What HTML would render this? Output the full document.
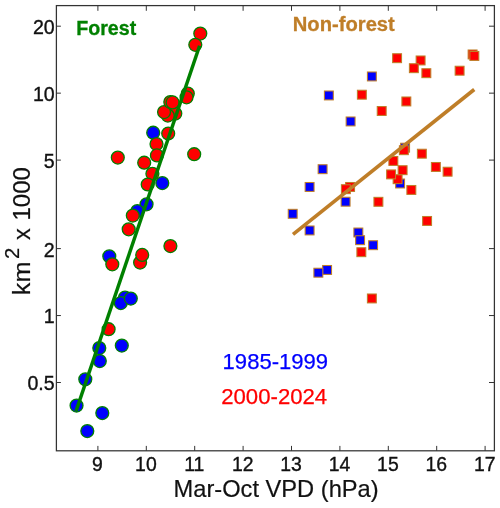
<!DOCTYPE html>
<html><head><meta charset="utf-8"><title>chart</title>
<style>html,body{margin:0;padding:0;background:#fff}svg{display:block;will-change:transform}text{font-family:"Liberation Sans",sans-serif}</style></head><body>
<svg width="500" height="508" viewBox="0 0 500 508">
<rect width="500" height="508" fill="#fff"/>
<circle cx="153.20" cy="132.70" r="6.45" fill="#0000ff" stroke="#008000" stroke-width="1.3"/>
<circle cx="162.30" cy="183.10" r="6.45" fill="#0000ff" stroke="#008000" stroke-width="1.3"/>
<circle cx="146.55" cy="204.35" r="6.45" fill="#0000ff" stroke="#008000" stroke-width="1.3"/>
<circle cx="137.30" cy="211.10" r="6.45" fill="#0000ff" stroke="#008000" stroke-width="1.3"/>
<circle cx="109.30" cy="256.35" r="6.45" fill="#0000ff" stroke="#008000" stroke-width="1.3"/>
<circle cx="125.05" cy="297.60" r="6.45" fill="#0000ff" stroke="#008000" stroke-width="1.3"/>
<circle cx="120.80" cy="303.10" r="6.45" fill="#0000ff" stroke="#008000" stroke-width="1.3"/>
<circle cx="130.80" cy="298.60" r="6.45" fill="#0000ff" stroke="#008000" stroke-width="1.3"/>
<circle cx="99.30" cy="348.10" r="6.45" fill="#0000ff" stroke="#008000" stroke-width="1.3"/>
<circle cx="121.80" cy="345.60" r="6.45" fill="#0000ff" stroke="#008000" stroke-width="1.3"/>
<circle cx="99.80" cy="361.10" r="6.45" fill="#0000ff" stroke="#008000" stroke-width="1.3"/>
<circle cx="85.30" cy="379.35" r="6.45" fill="#0000ff" stroke="#008000" stroke-width="1.3"/>
<circle cx="76.55" cy="405.60" r="6.45" fill="#0000ff" stroke="#008000" stroke-width="1.3"/>
<circle cx="102.30" cy="413.10" r="6.45" fill="#0000ff" stroke="#008000" stroke-width="1.3"/>
<circle cx="87.30" cy="431.10" r="6.45" fill="#0000ff" stroke="#008000" stroke-width="1.3"/>
<circle cx="200.30" cy="33.60" r="6.45" fill="#ff0000" stroke="#008000" stroke-width="1.3"/>
<circle cx="195.30" cy="44.85" r="6.45" fill="#ff0000" stroke="#008000" stroke-width="1.3"/>
<circle cx="187.80" cy="93.60" r="6.45" fill="#ff0000" stroke="#008000" stroke-width="1.3"/>
<circle cx="186.55" cy="97.35" r="6.45" fill="#ff0000" stroke="#008000" stroke-width="1.3"/>
<circle cx="175.30" cy="113.60" r="6.45" fill="#ff0000" stroke="#008000" stroke-width="1.3"/>
<circle cx="167.80" cy="115.60" r="6.45" fill="#ff0000" stroke="#008000" stroke-width="1.3"/>
<circle cx="164.05" cy="112.10" r="6.45" fill="#ff0000" stroke="#008000" stroke-width="1.3"/>
<circle cx="170.30" cy="102.10" r="6.45" fill="#ff0000" stroke="#008000" stroke-width="1.3"/>
<circle cx="172.60" cy="102.40" r="6.45" fill="#ff0000" stroke="#008000" stroke-width="1.3"/>
<circle cx="168.20" cy="133.50" r="6.45" fill="#ff0000" stroke="#008000" stroke-width="1.3"/>
<circle cx="156.50" cy="144.10" r="6.45" fill="#ff0000" stroke="#008000" stroke-width="1.3"/>
<circle cx="156.90" cy="155.40" r="6.45" fill="#ff0000" stroke="#008000" stroke-width="1.3"/>
<circle cx="117.80" cy="157.60" r="6.45" fill="#ff0000" stroke="#008000" stroke-width="1.3"/>
<circle cx="194.20" cy="154.20" r="6.45" fill="#ff0000" stroke="#008000" stroke-width="1.3"/>
<circle cx="144.20" cy="162.70" r="6.45" fill="#ff0000" stroke="#008000" stroke-width="1.3"/>
<circle cx="152.40" cy="173.80" r="6.45" fill="#ff0000" stroke="#008000" stroke-width="1.3"/>
<circle cx="147.70" cy="184.50" r="6.45" fill="#ff0000" stroke="#008000" stroke-width="1.3"/>
<circle cx="132.80" cy="215.60" r="6.45" fill="#ff0000" stroke="#008000" stroke-width="1.3"/>
<circle cx="128.70" cy="229.35" r="6.45" fill="#ff0000" stroke="#008000" stroke-width="1.3"/>
<circle cx="170.40" cy="246.10" r="6.45" fill="#ff0000" stroke="#008000" stroke-width="1.3"/>
<circle cx="140.10" cy="262.60" r="6.45" fill="#ff0000" stroke="#008000" stroke-width="1.3"/>
<circle cx="142.20" cy="254.90" r="6.45" fill="#ff0000" stroke="#008000" stroke-width="1.3"/>
<circle cx="112.30" cy="264.35" r="6.45" fill="#ff0000" stroke="#008000" stroke-width="1.3"/>
<circle cx="108.60" cy="329.20" r="6.45" fill="#ff0000" stroke="#008000" stroke-width="1.3"/>
<rect x="367.40" y="72.00" width="8.9" height="8.9" fill="#0000ff" stroke="#bf7e28" stroke-width="1.05"/>
<rect x="324.40" y="91.00" width="8.9" height="8.9" fill="#0000ff" stroke="#bf7e28" stroke-width="1.05"/>
<rect x="346.15" y="117.00" width="8.9" height="8.9" fill="#0000ff" stroke="#bf7e28" stroke-width="1.05"/>
<rect x="318.15" y="164.75" width="8.9" height="8.9" fill="#0000ff" stroke="#bf7e28" stroke-width="1.05"/>
<rect x="305.15" y="182.50" width="8.9" height="8.9" fill="#0000ff" stroke="#bf7e28" stroke-width="1.05"/>
<rect x="341.15" y="197.25" width="8.9" height="8.9" fill="#0000ff" stroke="#bf7e28" stroke-width="1.05"/>
<rect x="288.25" y="209.35" width="8.9" height="8.9" fill="#0000ff" stroke="#bf7e28" stroke-width="1.05"/>
<rect x="305.15" y="226.00" width="8.9" height="8.9" fill="#0000ff" stroke="#bf7e28" stroke-width="1.05"/>
<rect x="353.90" y="228.05" width="8.9" height="8.9" fill="#0000ff" stroke="#bf7e28" stroke-width="1.05"/>
<rect x="355.65" y="235.75" width="8.9" height="8.9" fill="#0000ff" stroke="#bf7e28" stroke-width="1.05"/>
<rect x="368.65" y="240.75" width="8.9" height="8.9" fill="#0000ff" stroke="#bf7e28" stroke-width="1.05"/>
<rect x="322.65" y="265.50" width="8.9" height="8.9" fill="#0000ff" stroke="#bf7e28" stroke-width="1.05"/>
<rect x="313.90" y="268.25" width="8.9" height="8.9" fill="#0000ff" stroke="#bf7e28" stroke-width="1.05"/>
<rect x="400.65" y="143.25" width="8.9" height="8.9" fill="#0000ff" stroke="#bf7e28" stroke-width="1.05"/>
<rect x="395.65" y="179.05" width="8.9" height="8.9" fill="#0000ff" stroke="#bf7e28" stroke-width="1.05"/>
<rect x="392.65" y="53.75" width="8.9" height="8.9" fill="#ff0000" stroke="#bf7e28" stroke-width="1.05"/>
<rect x="357.40" y="90.25" width="8.9" height="8.9" fill="#ff0000" stroke="#bf7e28" stroke-width="1.05"/>
<rect x="416.15" y="56.00" width="8.9" height="8.9" fill="#ff0000" stroke="#bf7e28" stroke-width="1.05"/>
<rect x="409.40" y="63.75" width="8.9" height="8.9" fill="#ff0000" stroke="#bf7e28" stroke-width="1.05"/>
<rect x="421.90" y="68.75" width="8.9" height="8.9" fill="#ff0000" stroke="#bf7e28" stroke-width="1.05"/>
<rect x="455.15" y="66.25" width="8.9" height="8.9" fill="#ff0000" stroke="#bf7e28" stroke-width="1.05"/>
<rect x="468.15" y="50.00" width="8.9" height="8.9" fill="#ff0000" stroke="#bf7e28" stroke-width="1.05"/>
<rect x="469.90" y="51.50" width="8.9" height="8.9" fill="#ff0000" stroke="#bf7e28" stroke-width="1.05"/>
<rect x="401.90" y="97.00" width="8.9" height="8.9" fill="#ff0000" stroke="#bf7e28" stroke-width="1.05"/>
<rect x="377.25" y="106.55" width="8.9" height="8.9" fill="#ff0000" stroke="#bf7e28" stroke-width="1.05"/>
<rect x="345.65" y="182.50" width="8.9" height="8.9" fill="#ff0000" stroke="#bf7e28" stroke-width="1.05"/>
<rect x="341.40" y="184.75" width="8.9" height="8.9" fill="#ff0000" stroke="#bf7e28" stroke-width="1.05"/>
<rect x="373.95" y="197.35" width="8.9" height="8.9" fill="#ff0000" stroke="#bf7e28" stroke-width="1.05"/>
<rect x="399.40" y="145.75" width="8.9" height="8.9" fill="#ff0000" stroke="#bf7e28" stroke-width="1.05"/>
<rect x="417.40" y="149.25" width="8.9" height="8.9" fill="#ff0000" stroke="#bf7e28" stroke-width="1.05"/>
<rect x="388.90" y="156.50" width="8.9" height="8.9" fill="#ff0000" stroke="#bf7e28" stroke-width="1.05"/>
<rect x="431.40" y="162.50" width="8.9" height="8.9" fill="#ff0000" stroke="#bf7e28" stroke-width="1.05"/>
<rect x="443.15" y="167.25" width="8.9" height="8.9" fill="#ff0000" stroke="#bf7e28" stroke-width="1.05"/>
<rect x="393.15" y="174.75" width="8.9" height="8.9" fill="#ff0000" stroke="#bf7e28" stroke-width="1.05"/>
<rect x="398.15" y="165.75" width="8.9" height="8.9" fill="#ff0000" stroke="#bf7e28" stroke-width="1.05"/>
<rect x="386.65" y="169.95" width="8.9" height="8.9" fill="#ff0000" stroke="#bf7e28" stroke-width="1.05"/>
<rect x="406.90" y="185.50" width="8.9" height="8.9" fill="#ff0000" stroke="#bf7e28" stroke-width="1.05"/>
<rect x="422.65" y="216.50" width="8.9" height="8.9" fill="#ff0000" stroke="#bf7e28" stroke-width="1.05"/>
<rect x="356.90" y="247.75" width="8.9" height="8.9" fill="#ff0000" stroke="#bf7e28" stroke-width="1.05"/>
<rect x="367.40" y="294.00" width="8.9" height="8.9" fill="#ff0000" stroke="#bf7e28" stroke-width="1.05"/>
<line x1="76.0" y1="411.3" x2="199.6" y2="45.7" stroke="#008000" stroke-width="3.5"/>
<line x1="293.0" y1="234.4" x2="474.25" y2="89.5" stroke="#bf7e28" stroke-width="3.6"/>
<rect x="56.4" y="5.6" width="438.0" height="445.2" fill="none" stroke="#333333" stroke-width="1.25"/>
<line x1="97.90" y1="450.8" x2="97.90" y2="445.90000000000003" stroke="#333333" stroke-width="1"/>
<line x1="97.90" y1="5.6" x2="97.90" y2="10.8" stroke="#333333" stroke-width="1"/>
<text x="97.50" y="470.7" font-size="19.4" text-anchor="middle" fill="#111111" stroke="#111111" stroke-width="0.35">9</text>
<line x1="146.30" y1="450.8" x2="146.30" y2="445.90000000000003" stroke="#333333" stroke-width="1"/>
<line x1="146.30" y1="5.6" x2="146.30" y2="10.8" stroke="#333333" stroke-width="1"/>
<text x="145.90" y="470.7" font-size="19.4" text-anchor="middle" fill="#111111" stroke="#111111" stroke-width="0.35">10</text>
<line x1="194.70" y1="450.8" x2="194.70" y2="445.90000000000003" stroke="#333333" stroke-width="1"/>
<line x1="194.70" y1="5.6" x2="194.70" y2="10.8" stroke="#333333" stroke-width="1"/>
<text x="194.30" y="470.7" font-size="19.4" text-anchor="middle" fill="#111111" stroke="#111111" stroke-width="0.35">11</text>
<line x1="243.10" y1="450.8" x2="243.10" y2="445.90000000000003" stroke="#333333" stroke-width="1"/>
<line x1="243.10" y1="5.6" x2="243.10" y2="10.8" stroke="#333333" stroke-width="1"/>
<text x="242.70" y="470.7" font-size="19.4" text-anchor="middle" fill="#111111" stroke="#111111" stroke-width="0.35">12</text>
<line x1="291.50" y1="450.8" x2="291.50" y2="445.90000000000003" stroke="#333333" stroke-width="1"/>
<line x1="291.50" y1="5.6" x2="291.50" y2="10.8" stroke="#333333" stroke-width="1"/>
<text x="291.10" y="470.7" font-size="19.4" text-anchor="middle" fill="#111111" stroke="#111111" stroke-width="0.35">13</text>
<line x1="339.90" y1="450.8" x2="339.90" y2="445.90000000000003" stroke="#333333" stroke-width="1"/>
<line x1="339.90" y1="5.6" x2="339.90" y2="10.8" stroke="#333333" stroke-width="1"/>
<text x="339.50" y="470.7" font-size="19.4" text-anchor="middle" fill="#111111" stroke="#111111" stroke-width="0.35">14</text>
<line x1="388.30" y1="450.8" x2="388.30" y2="445.90000000000003" stroke="#333333" stroke-width="1"/>
<line x1="388.30" y1="5.6" x2="388.30" y2="10.8" stroke="#333333" stroke-width="1"/>
<text x="387.90" y="470.7" font-size="19.4" text-anchor="middle" fill="#111111" stroke="#111111" stroke-width="0.35">15</text>
<line x1="436.70" y1="450.8" x2="436.70" y2="445.90000000000003" stroke="#333333" stroke-width="1"/>
<line x1="436.70" y1="5.6" x2="436.70" y2="10.8" stroke="#333333" stroke-width="1"/>
<text x="436.30" y="470.7" font-size="19.4" text-anchor="middle" fill="#111111" stroke="#111111" stroke-width="0.35">16</text>
<line x1="485.10" y1="450.8" x2="485.10" y2="445.90000000000003" stroke="#333333" stroke-width="1"/>
<line x1="485.10" y1="5.6" x2="485.10" y2="10.8" stroke="#333333" stroke-width="1"/>
<text x="484.70" y="470.7" font-size="19.4" text-anchor="middle" fill="#111111" stroke="#111111" stroke-width="0.35">17</text>
<line x1="56.4" y1="26.2" x2="60.9" y2="26.2" stroke="#333333" stroke-width="1"/>
<line x1="494.4" y1="26.2" x2="489.0" y2="26.2" stroke="#333333" stroke-width="1"/>
<text x="54.7" y="34.10" font-size="19.6" text-anchor="end" fill="#111111" stroke="#111111" stroke-width="0.35">20</text>
<line x1="56.4" y1="93.15" x2="60.9" y2="93.15" stroke="#333333" stroke-width="1"/>
<line x1="494.4" y1="93.15" x2="489.0" y2="93.15" stroke="#333333" stroke-width="1"/>
<text x="54.7" y="101.05" font-size="19.6" text-anchor="end" fill="#111111" stroke="#111111" stroke-width="0.35">10</text>
<line x1="56.4" y1="160.1" x2="60.9" y2="160.1" stroke="#333333" stroke-width="1"/>
<line x1="494.4" y1="160.1" x2="489.0" y2="160.1" stroke="#333333" stroke-width="1"/>
<text x="54.7" y="168.00" font-size="19.6" text-anchor="end" fill="#111111" stroke="#111111" stroke-width="0.35">5</text>
<line x1="56.4" y1="248.6" x2="60.9" y2="248.6" stroke="#333333" stroke-width="1"/>
<line x1="494.4" y1="248.6" x2="489.0" y2="248.6" stroke="#333333" stroke-width="1"/>
<text x="54.7" y="256.50" font-size="19.6" text-anchor="end" fill="#111111" stroke="#111111" stroke-width="0.35">2</text>
<line x1="56.4" y1="315.55" x2="60.9" y2="315.55" stroke="#333333" stroke-width="1"/>
<line x1="494.4" y1="315.55" x2="489.0" y2="315.55" stroke="#333333" stroke-width="1"/>
<text x="54.7" y="323.45" font-size="19.6" text-anchor="end" fill="#111111" stroke="#111111" stroke-width="0.35">1</text>
<line x1="56.4" y1="382.5" x2="60.9" y2="382.5" stroke="#333333" stroke-width="1"/>
<line x1="494.4" y1="382.5" x2="489.0" y2="382.5" stroke="#333333" stroke-width="1"/>
<text x="54.7" y="390.40" font-size="19.6" text-anchor="end" fill="#111111" stroke="#111111" stroke-width="0.35">0.5</text>
<text x="173.6" y="496.7" font-size="23.8" fill="#111111" stroke="#111111" stroke-width="0.2" textLength="205" lengthAdjust="spacingAndGlyphs">Mar-Oct VPD (hPa)</text>
<text transform="translate(29.65,295.2) rotate(-90)" font-size="23.5" fill="#111111" stroke="#111111" stroke-width="0.2" textLength="33.6" lengthAdjust="spacingAndGlyphs">km</text>
<text transform="translate(19.3,259.0) rotate(-90)" font-size="20.3" fill="#111111" stroke="#111111" stroke-width="0.2">2</text>
<text transform="translate(29.65,240.0) rotate(-90)" font-size="23.5" fill="#111111" stroke="#111111" stroke-width="0.2">x</text>
<text transform="translate(29.65,220.6) rotate(-90)" font-size="23.5" fill="#111111" stroke="#111111" stroke-width="0.2" textLength="53.5" lengthAdjust="spacingAndGlyphs">1000</text>
<text x="76.2" y="34.5" font-size="19.8" font-weight="bold" fill="#008000" stroke="#008000" stroke-width="0.3" textLength="60" lengthAdjust="spacingAndGlyphs">Forest</text>
<text x="292.8" y="30.5" font-size="20.3" font-weight="bold" fill="#bf7e28" stroke="#bf7e28" stroke-width="0.3" textLength="102" lengthAdjust="spacingAndGlyphs">Non-forest</text>
<text x="222.6" y="369.3" font-size="22.2" fill="#0000ff" stroke="#0000ff" stroke-width="0.25" textLength="105.5" lengthAdjust="spacingAndGlyphs">1985-1999</text>
<text x="221.2" y="404.2" font-size="22.2" fill="#ff0000" stroke="#ff0000" stroke-width="0.25" textLength="106" lengthAdjust="spacingAndGlyphs">2000-2024</text>
</svg></body></html>
